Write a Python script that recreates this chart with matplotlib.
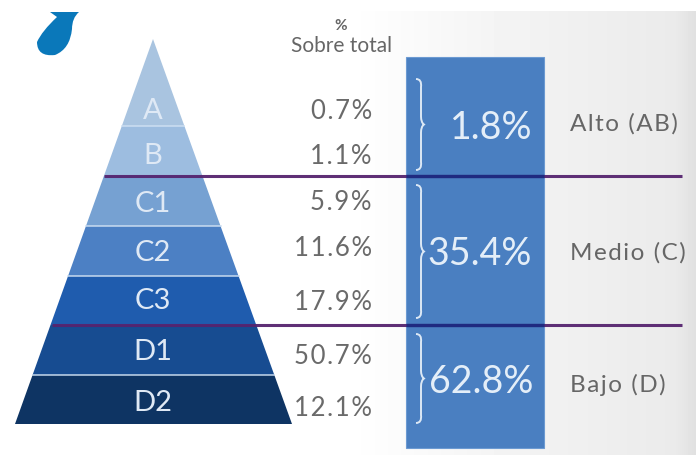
import numpy as np
import matplotlib
matplotlib.use('Agg')
import matplotlib.pyplot as plt
from matplotlib.patches import Polygon, Rectangle, PathPatch
from matplotlib.path import Path

levels = ['A', 'B', 'C1', 'C2', 'C3', 'D1', 'D2']
shares = ['0.7%', '1.1%', '5.9%', '11.6%', '17.9%', '50.7%', '12.1%']
level_colors = ['#a9c4e0', '#9dbde0', '#76a1d2', '#4c80c4', '#1f5cae', '#174c91', '#0e3463']
groups = ['Alto (AB)', 'Medio (C)', 'Bajo (D)']
group_totals = ['1.8%', '35.4%', '62.8%']

# layout in image pixels
APEX = (153, 40)
BASE_Y = 425
BASE_L, BASE_R = 15, 292
band_edges = [40, 127, 177, 227, 277, 326, 376, 425]
label_y = [111, 156, 204, 253, 301, 352, 403]
share_y = [112, 157, 203, 249, 303, 357, 409]
group_y = [124, 253, 385]
total_y = [128, 254, 382]
total_x = [491, 480, 481]
braces = [(80, 171), (186, 319), (335, 424)]
rules = [177, 326]
RULE_X = [(104, 682), (52, 682)]


def edge_x(y):
    t = (y - APEX[1]) / (BASE_Y - APEX[1])
    return APEX[0] - t * (APEX[0] - BASE_L), APEX[0] + t * (BASE_R - APEX[0])


def spaced(s):
    # the original lettering is set wide
    return '\u200a'.join(s)


def brace_path(x, y0, y1):
    mid = (y0 + y1) / 2
    verts = [(x - 3, y0), (x + 3, y0), (x + 2, y0 + 8),
             (x + 2, mid - 8), (x + 2, mid - 2), (x + 5, mid),
             (x + 2, mid + 2), (x + 2, mid + 8),
             (x + 2, y1 - 8), (x + 3, y1), (x - 3, y1)]
    codes = [Path.MOVETO] + [Path.CURVE3, Path.CURVE3,
                             Path.LINETO, Path.CURVE3, Path.CURVE3,
                             Path.CURVE3, Path.CURVE3,
                             Path.LINETO, Path.CURVE3, Path.CURVE3]
    return Path(verts, codes)


plt.rcParams['font.family'] = ['Lato', 'DejaVu Sans']

fig = plt.figure(figsize=(6.96, 4.56), dpi=100)
ax = fig.add_axes([0, 0, 1, 1])
ax.set_xlim(0, 696)
ax.set_ylim(456, 0)
ax.axis('off')

# background fade to grey on the right
xs = np.linspace(0, 1, 696)
shade = np.interp(xs, [0, 0.5, 0.72, 0.97, 1.0], [1.0, 1.0, 0.955, 0.92, 0.88])
bg = np.tile(shade, (456, 1))
bg[:12, :] = 1.0
ax.imshow(bg, cmap='gray', vmin=0, vmax=1, extent=(0, 696, 456, 0), aspect='auto', zorder=0)

# pyramid
for i, name in enumerate(levels):
    top, bottom = band_edges[i], band_edges[i + 1]
    tl, tr = edge_x(top)
    bl, br = edge_x(bottom)
    ax.add_patch(Polygon([(tl, top), (tr, top), (br, bottom), (bl, bottom)],
                         closed=True, facecolor=level_colors[i], edgecolor='none', zorder=2))
    if i > 0 and top not in rules:
        ax.plot([tl, tr], [top, top], color='#cfe0f2', lw=1.3, alpha=0.8, zorder=3)
    ax.text(APEX[0], label_y[i], name, color='#dfe9f5', fontsize=21,
            ha='center', va='center', zorder=4)

# share column
ax.text(341, 26, '%', color='#666666', fontsize=11, ha='center', va='center', fontweight='bold')
ax.text(342, 46, 'Sobre total', color='#666666', fontsize=15, ha='center', va='center')
for y, s in zip(share_y, shares):
    ax.text(372, y, spaced(s), color='#6a6a6a', fontsize=18.5, ha='right', va='center')

# blue column
ax.add_patch(Rectangle((406, 58), 138, 391, facecolor='#4a7fc1', edgecolor='#6c9ad2', lw=0.8, zorder=2))
for y0, y1 in braces:
    ax.add_patch(PathPatch(brace_path(419, y0, y1), facecolor='none',
                           edgecolor='#dce8f5', lw=1.4, zorder=4))
for x, y, s in zip(total_x, total_y, group_totals):
    ax.text(x, y, s, color='#e4eef8', fontsize=27, ha='center', va='center', zorder=4)

# group names
for y, s in zip(group_y, groups):
    ax.text(570, y, spaced(s), color='#666666', fontsize=17.5, ha='left', va='center')

# separators, darker where they cross the blue column
for y, (x0, x1) in zip(rules, RULE_X):
    ax.plot([x0, x1], [y, y], color='#56246f', lw=2.2, alpha=0.95, solid_capstyle='butt', zorder=5)
    ax.plot([406, 544], [y, y], color='#1f2a80', lw=2.4, solid_capstyle='butt', zorder=6)

# drop logo, cropped by the top of the picture
drop = Path([(50, 13), (79, 13), (72, 19), (72, 30), (70, 50), (55, 56),
             (37, 58), (37, 43), (42, 32), (57, 18), (50, 13)],
            [Path.MOVETO, Path.LINETO, Path.CURVE3, Path.CURVE3, Path.CURVE3, Path.CURVE3,
             Path.CURVE3, Path.CURVE3, Path.CURVE3, Path.CURVE3, Path.LINETO])
ax.add_patch(PathPatch(drop, facecolor='#0a78ba', edgecolor='none', zorder=3))

fig.savefig('out.png', dpi=100)
